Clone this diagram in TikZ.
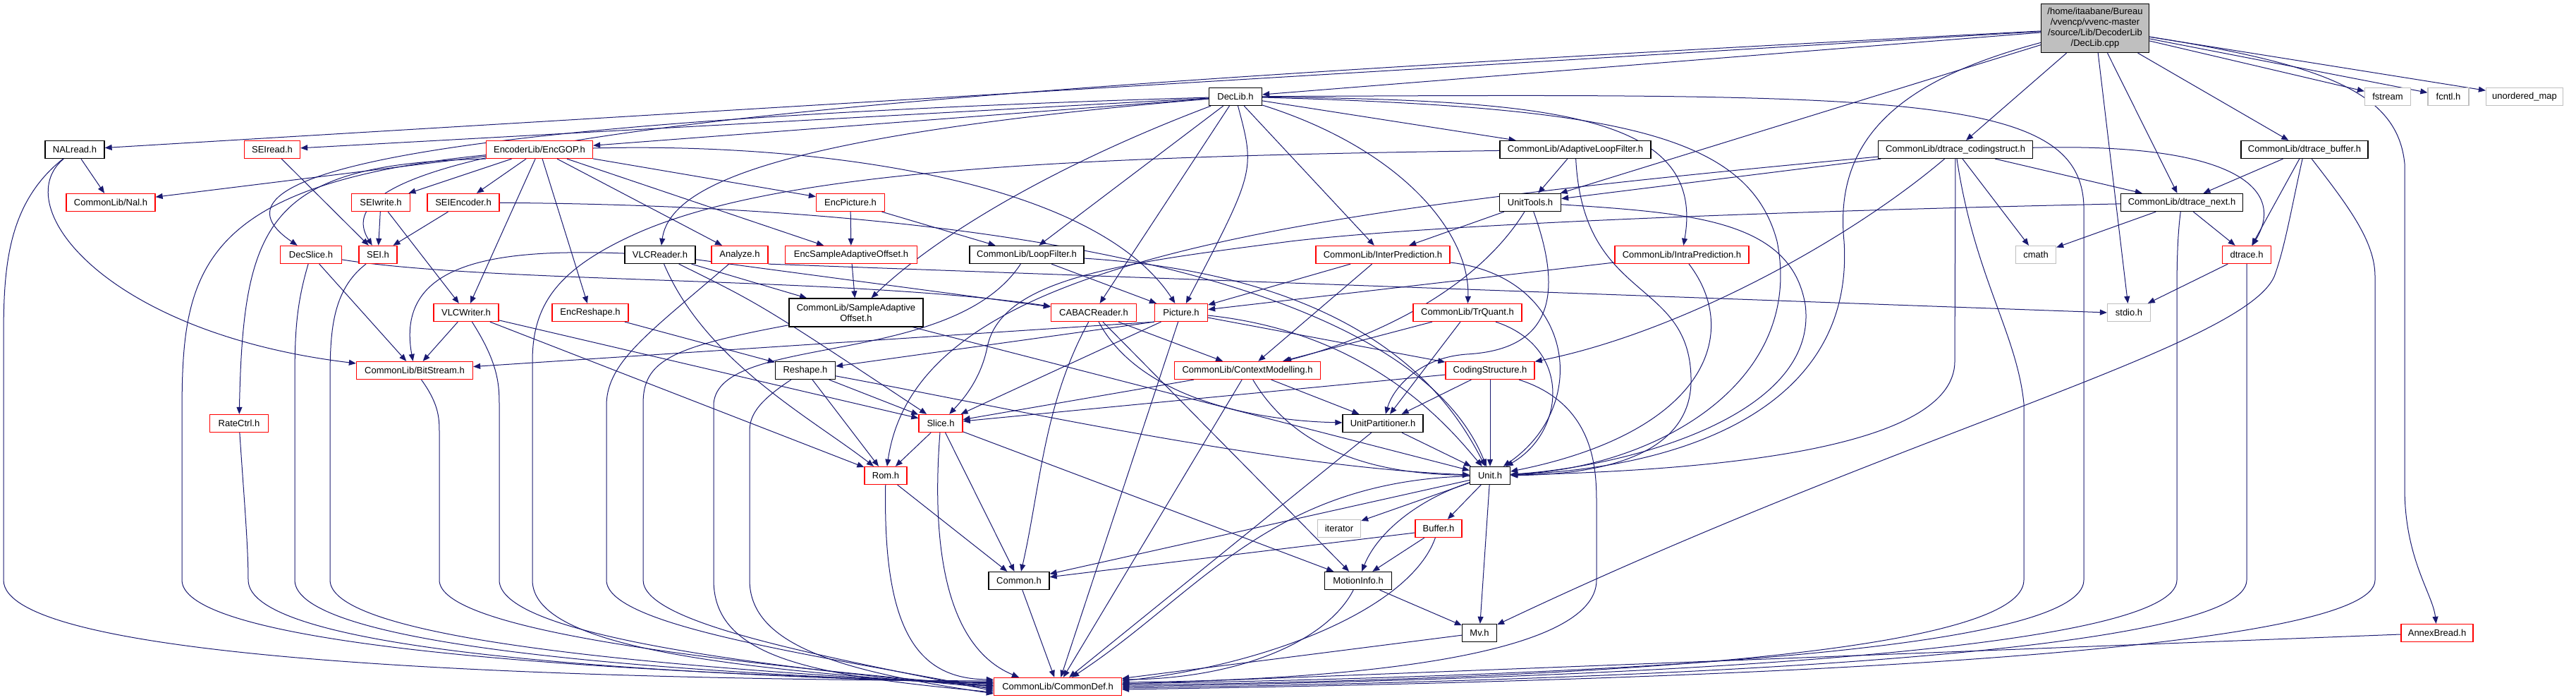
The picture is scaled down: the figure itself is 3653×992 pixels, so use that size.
\documentclass[tikz,border=0pt]{standalone}
\usepackage{fontspec}
\setmainfont{Liberation Sans}
\usetikzlibrary{arrows.meta}
\pgfdeclarelayer{edges}
\pgfsetlayers{edges,main}
\definecolor{edgeblue}{HTML}{191970}
\definecolor{extgray}{HTML}{BFBFBF}
\definecolor{truncred}{HTML}{FF0000}

\begin{document}
\begin{tikzpicture}[
    x=1pt, y=1pt,
    % basic file box
    filebox/.style={rectangle, line width=1.3pt, inner sep=0pt, minimum height=25pt,
        fill=white, font=\fontsize{13pt}{15pt}\selectfont},
    % documented header (black frame)
    hdr/.style={filebox, draw=black},
    % truncated header (red frame)
    trunc/.style={filebox, draw=truncred},
    % system header (grey frame)
    ext/.style={filebox, draw=extgray},
    % the file itself
    rootbox/.style={filebox, draw=black, fill=extgray, align=center, minimum height=69pt},
    % include arrow
    incl/.style={draw=edgeblue, line width=1pt, -{Triangle[length=10pt,width=8pt]}}
]

    % 0. page frame
    \useasboundingbox (0,0) rectangle (3653,992);

    % 1. the source file and first row
    \node[rootbox, minimum width=153pt] (root) at (2971,952)
        {/home/itaabane/Bureau\\/vvencp/vvenc-master\\/source/Lib/DecoderLib\\/DecLib.cpp};
    \node[hdr, minimum width=75pt]  (declib)  at (1752,855) {DecLib.h};
    \node[ext, minimum width=65pt]  (fstream) at (3386,855) {fstream};
    \node[ext, minimum width=58pt]  (fcntl)   at (3472,855) {fcntl.h};
    \node[ext, minimum width=109pt] (umap)    at (3580,855) {unordered\_map};

    % 2. second row
    \node[hdr, minimum width=84pt]    (nalread) at (106,780)  {NALread.h};
    \node[trunc, minimum width=79pt]  (seiread) at (386,780)  {SEIread.h};
    \node[trunc, minimum width=151pt] (encgop)  at (765,780)  {EncoderLib/EncGOP.h};
    \node[hdr, minimum width=214pt]   (alf)     at (2234,780) {CommonLib/AdaptiveLoopFilter.h};
    \node[hdr, minimum width=219pt]   (dtcs)    at (2773,780) {CommonLib/dtrace\_codingstruct.h};
    \node[hdr, minimum width=180pt]   (dtbuf)   at (3268,780) {CommonLib/dtrace\_buffer.h};

    % 3. third row
    \node[trunc, minimum width=126pt] (nal)       at (157,705)  {CommonLib/Nal.h};
    \node[trunc, minimum width=83pt]  (seiwrite)  at (540,705)  {SEIwrite.h};
    \node[trunc, minimum width=102pt] (seienc)    at (657,705)  {SEIEncoder.h};
    \node[trunc, minimum width=97pt]  (encpic)    at (1206,705) {EncPicture.h};
    \node[hdr, minimum width=87pt]    (unittools) at (2170,705) {UnitTools.h};
    \node[hdr, minimum width=173pt]   (dtnext)    at (3094,705) {CommonLib/dtrace\_next.h};

    % 4. fourth row
    \node[trunc, minimum width=87pt]  (decslice)   at (441,631)  {DecSlice.h};
    \node[trunc, minimum width=54pt]  (sei)        at (536,631)  {SEI.h};
    \node[hdr, minimum width=100pt]   (vlcreader)  at (936,631)  {VLCReader.h};
    \node[trunc, minimum width=80pt]  (analyze)    at (1049,631) {Analyze.h};
    \node[trunc, minimum width=187pt] (encsao)     at (1207,631) {EncSampleAdaptiveOffset.h};
    \node[hdr, minimum width=162pt]   (loopfilter) at (1456,631) {CommonLib/LoopFilter.h};
    \node[trunc, minimum width=190pt] (interpred)  at (1961,631) {CommonLib/InterPrediction.h};
    \node[trunc, minimum width=190pt] (intrapred)  at (2385,631) {CommonLib/IntraPrediction.h};
    \node[ext, minimum width=57pt]    (cmath)      at (2887,631) {cmath};
    \node[trunc, minimum width=69pt]  (dtrace)     at (3186,631) {dtrace.h};

    % 5. fifth row
    \node[trunc, minimum width=92pt]  (vlcwriter)  at (661,549)  {VLCWriter.h};
    \node[trunc, minimum width=108pt] (encreshape) at (837,549)  {EncReshape.h};
    \node[hdr, minimum width=190pt, minimum height=40pt, align=center] (sao) at (1214,549)
        {CommonLib/SampleAdaptive\\Offset.h};
    \node[trunc, minimum width=121pt] (cabac)      at (1551,549) {CABACReader.h};
    \node[trunc, minimum width=75pt]  (picture)    at (1675,549) {Picture.h};
    \node[trunc, minimum width=154pt] (trquant)    at (2081,549) {CommonLib/TrQuant.h};
    \node[ext, minimum width=61pt]    (stdio)      at (3019,549) {stdio.h};

    % 6. lower rows
    \node[trunc, minimum width=165pt] (bitstream)    at (588,467)  {CommonLib/BitStream.h};
    \node[hdr, minimum width=85pt]    (reshape)      at (1142,467) {Reshape.h};
    \node[trunc, minimum width=207pt] (ctxmod)       at (1769,467) {CommonLib/ContextModelling.h};
    \node[trunc, minimum width=126pt] (codingstruct) at (2113,467) {CodingStructure.h};
    \node[trunc, minimum width=83pt]  (ratectrl)     at (339,392)  {RateCtrl.h};
    \node[trunc, minimum width=62pt]  (slice)        at (1334,392) {Slice.h};
    \node[hdr, minimum width=114pt]   (unitpart)     at (1961,392) {UnitPartitioner.h};
    \node[trunc, minimum width=60pt]  (rom)          at (1256,318) {Rom.h};
    \node[hdr, minimum width=57pt]    (unit)         at (2113,318) {Unit.h};
    \node[ext, minimum width=61pt]    (iterator)     at (1899,243) {iterator};
    \node[trunc, minimum width=66pt]  (buffer)       at (2040,243) {Buffer.h};
    \node[hdr, minimum width=86pt]    (common)       at (1445,169) {Common.h};
    \node[hdr, minimum width=95pt]    (motioninfo)   at (1926,169) {MotionInfo.h};
    \node[hdr, minimum width=49pt]    (mv)           at (2098,95)  {Mv.h};
    \node[trunc, minimum width=102pt] (annexb)       at (3456,95)  {AnnexBread.h};
    \node[trunc, minimum width=181pt] (commondef)    at (1500,19)  {CommonLib/CommonDef.h};

    \begin{pgfonlayer}{edges}
    % 7. includes of the source file
    \draw[incl] (root) -- (declib);
    \draw[incl] (root) -- (nalread);
    \draw[incl] (root) .. controls (1200,860) and (430,800) .. (sei);
    \draw[incl] (root) -- (unittools);
    \draw[incl] (root) .. controls (2700,880) and (2600,800) .. (2615,650) .. controls (2630,420) and (2400,330) .. (unit);
    \draw[incl] (root) -- (dtcs);
    \draw[incl] (root) -- (dtnext);
    \draw[incl] (root) -- (dtbuf);
    \draw[incl] (root) -- (stdio);
    \draw[incl] (root) -- (fstream);
    \draw[incl] (root) -- (fcntl);
    \draw[incl] (root) -- (umap);
    \draw[incl] (root) .. controls (3300,900) and (3400,860) .. (3410,760) -- (3410,300) .. controls (3410,200) and (3450,150) .. (annexb);

    % 8. DecLib.h
    \draw[incl] (declib) -- (seiread);
    \draw[incl] (declib) .. controls (400,815) and (310,720) .. (decslice);
    \draw[incl] (declib) -- (encgop);
    \draw[incl] (declib) .. controls (1100,800) and (950,730) .. (vlcreader);
    \draw[incl] (declib) .. controls (1500,760) and (1330,660) .. (sao);
    \draw[incl] (declib) -- (loopfilter);
    \draw[incl] (declib) -- (cabac);
    \draw[incl] (declib) .. controls (1780,750) .. (picture);
    \draw[incl] (declib) -- (alf);
    \draw[incl] (declib) -- (interpred);
    \draw[incl] (declib) .. controls (1990,780) and (2085,660) .. (trquant);
    \draw[incl] (declib) .. controls (2200,850) and (2420,830) .. (intrapred);
    \draw[incl] (declib) .. controls (2300,840) and (2480,800) .. (2520,650) .. controls (2560,450) and (2350,330) .. (unit);
    \draw[incl] (declib) .. controls (2700,860) and (2950,860) .. (2955,700) -- (2955,170) .. controls (2955,70) and (2300,35) .. ([yshift=4pt]commondef.east);

    % 9. encoder side headers
    \draw[incl] (encgop) -- (nal);
    \draw[incl] (encgop) -- (seiwrite);
    \draw[incl] (encgop) -- (seienc);
    \draw[incl] (encgop) -- (vlcwriter);
    \draw[incl] (encgop) -- (encreshape);
    \draw[incl] (encgop) -- (analyze);
    \draw[incl] (encgop) -- (encsao);
    \draw[incl] (encgop) -- (encpic);
    \draw[incl] (encgop) .. controls (1150,790) and (1550,740) .. (picture);
    \draw[incl] (encgop.south west) .. controls (380,760) and (345,680) .. (ratectrl);
    \draw[incl] (encgop) .. controls (270,730) and (258,600) .. (258,400) -- (258,170) .. controls (258,80) and (800,40) .. ([yshift=6pt]commondef.west);
    \draw[incl] (seiwrite) -- (sei);
    \draw[incl] (seiwrite) -- (vlcwriter);
    \draw[incl] (seienc) -- (sei);
    \draw[incl] (seienc) .. controls (1400,700) and (2000,600) .. (unit);
    \draw[incl] (encpic) -- (encsao);
    \draw[incl] (encpic) -- (loopfilter);
    \draw[incl] (encsao) -- (sao);
    \draw[incl] (encreshape) -- (reshape);
    \draw[incl] (ratectrl) .. controls (345,300) and (352,220) .. (352,170) .. controls (352,75) and (850,38) .. ([yshift=5pt]commondef.west);
    \draw[incl] (analyze.south east) -- (stdio.west);
    \draw[incl] (analyze) .. controls (920,520) and (862,480) .. (860,420) -- (860,170) .. controls (860,105) and (1150,65) .. ([yshift=-4pt]commondef.west);

    % 10. decoder side headers
    \draw[incl] (nalread) -- (nal);
    \draw[incl] (nalread) .. controls (10,700) and (150,520) .. (bitstream);
    \draw[incl] (nalread) .. controls (5,700) and (5,600) .. (5,500) -- (5,170) .. controls (5,60) and (700,30) .. ([yshift=8pt]commondef.west);
    \draw[incl] (seiread) -- (sei);
    \draw[incl] (decslice) .. controls (700,590) and (1200,600) .. (cabac);
    \draw[incl] (decslice) -- (bitstream);
    \draw[incl] (decslice) .. controls (420,560) and (418,520) .. (418,450) -- (418,170) .. controls (418,80) and (900,40) .. ([yshift=4pt]commondef.west);
    \draw[incl] (sei) .. controls (470,580) and (468,520) .. (468,450) -- (468,170) .. controls (468,85) and (950,45) .. ([yshift=2pt]commondef.west);
    \draw[incl] (vlcreader) .. controls (1000,480) and (1150,400) .. (rom);
    \draw[incl] (vlcreader) .. controls (700,640) and (560,620) .. (bitstream);
    \draw[incl] (vlcreader) .. controls (1080,560) .. (slice);
    \draw[incl] (vlcreader) -- (sao);
    \draw[incl] (vlcreader) -- (cabac);
    \draw[incl] (vlcwriter) -- (bitstream);
    \draw[incl] (vlcwriter) -- (rom);
    \draw[incl] (vlcwriter) -- (slice);
    \draw[incl] (vlcwriter) .. controls (705,480) and (708,450) .. (708,420) -- (708,170) .. controls (708,95) and (1050,50) .. ([yshift=-2pt]commondef.west);
    \draw[incl] (bitstream) .. controls (622,420) and (623,400) .. (623,380) -- (623,170) .. controls (623,100) and (1000,55) .. (commondef.west);

    % 11. CommonLib, left part
    \draw[incl] (sao) -- (unit);
    \draw[incl] (sao) .. controls (950,500) and (912,480) .. (912,420) -- (912,170) .. controls (912,110) and (1150,65) .. ([yshift=-6pt]commondef.west);
    \draw[incl] (loopfilter) -- (picture);
    \draw[incl] (loopfilter) .. controls (1950,600) and (2060,420) .. (unit);
    \draw[incl] (loopfilter) .. controls (1350,470) and (1020,520) .. (1012,420) -- (1012,170) .. controls (1012,60) and (1150,35) .. ([yshift=-8pt]commondef.west);
    \draw[incl] (alf) -- (unittools);
    \draw[incl] (alf) .. controls (2245,560) and (2400,600) .. (2398,450) .. controls (2396,360) and (2300,320) .. (unit);
    \draw[incl] (alf) .. controls (1500,770) and (1100,750) .. (900,660) .. controls (790,610) and (755,560) .. (755,480) -- (755,170) .. controls (755,80) and (1000,45) .. ([yshift=1pt]commondef.west);
    \draw[incl] (reshape) -- (rom);
    \draw[incl] (reshape) -- (slice);
    \draw[incl] (reshape) .. controls (1400,420) and (1800,330) .. (unit);
    \draw[incl] (reshape) .. controls (1070,420) and (1063,400) .. (1063,380) -- (1063,170) .. controls (1063,75) and (1200,40) .. ([yshift=-10pt]commondef.west);
    \draw[incl] (cabac) -- (ctxmod);
    \draw[incl] (cabac) .. controls (1620,420) and (1800,395) .. (unitpart);
    \draw[incl] (cabac) -- (motioninfo);
    \draw[incl] (cabac) .. controls (1480,420) and (1475,300) .. (common);
    \draw[incl] (picture.south west) -- (bitstream);
    \draw[incl] (picture.south west) -- (reshape);
    \draw[incl] (picture) -- (slice);
    \draw[incl] (picture) -- (codingstruct);
    \draw[incl] (picture) .. controls (1950,520) and (2060,380) .. (unit);
    \draw[incl] (picture) -- (commondef);

    % 12. CommonLib, right part
    \draw[incl] (interpred) -- (ctxmod);
    \draw[incl] (interpred) -- (picture);
    \draw[incl] (interpred) .. controls (2230,600) and (2260,420) .. (unit);
    \draw[incl] (intrapred) -- (picture);
    \draw[incl] (intrapred) .. controls (2470,520) and (2420,380) .. (unit);
    \draw[incl] (trquant) -- (ctxmod);
    \draw[incl] (trquant) -- (unitpart);
    \draw[incl] (trquant) .. controls (2230,500) and (2220,380) .. (unit);
    \draw[incl] (unittools) -- (interpred);
    \draw[incl] (unittools) .. controls (2080,560) and (1900,500) .. (ctxmod);
    \draw[incl] (unittools) .. controls (2230,540) and (2170,495) .. (2080,490) .. controls (2010,485) and (1975,440) .. (unitpart);
    \draw[incl] (unittools) .. controls (2400,690) and (2540,680) .. (2560,560) .. controls (2580,400) and (2300,330) .. (unit);
    \draw[incl] (ctxmod) -- (slice);
    \draw[incl] (ctxmod) -- (unitpart);
    \draw[incl] (ctxmod) .. controls (1850,330) and (2000,320) .. (unit);
    \draw[incl] (ctxmod) -- (commondef);
    \draw[incl] (codingstruct) -- (unitpart);
    \draw[incl] (codingstruct) -- (unit);
    \draw[incl] (codingstruct) -- (slice);
    \draw[incl] (codingstruct) .. controls (2260,420) and (2264,330) .. (2264,280) -- (2264,170) .. controls (2264,60) and (1900,28) .. ([yshift=6pt]commondef.east);

    % 13. dtrace headers
    \draw[incl] (dtcs) -- (unittools);
    \draw[incl] (dtcs) -- (dtnext);
    \draw[incl] (dtcs) -- (cmath);
    \draw[incl] (dtcs) .. controls (3180,790) and (3240,720) .. (dtrace);
    \draw[incl] (dtcs) .. controls (2620,650) and (2380,520) .. (codingstruct);
    \draw[incl] (dtcs) .. controls (1800,690) and (1300,620) .. (rom);
    \draw[incl] (dtcs) -- (2772,480) .. controls (2772,350) and (2400,325) .. (unit);
    \draw[incl] (dtcs) .. controls (2800,600) and (2860,520) .. (2870,420) -- (2870,170) .. controls (2870,70) and (2300,30) .. ([yshift=2pt]commondef.east);
    \draw[incl] (dtnext) -- (cmath);
    \draw[incl] (dtnext) -- (dtrace);
    \draw[incl] (dtnext) .. controls (2400,690) and (2000,670) .. (1830,650) .. controls (1600,620) and (1420,600) .. (1400,500) .. controls (1390,450) and (1360,420) .. (slice);
    \draw[incl] (dtnext) .. controls (3088,660) and (3087,620) .. (3087,580) -- (3087,170) .. controls (3087,75) and (2400,32) .. (commondef.east);
    \draw[incl] (dtbuf) -- (dtnext);
    \draw[incl] (dtbuf) -- (dtrace);
    \draw[incl] (dtbuf) .. controls (3250,700) and (3240,640) .. (3225,600) .. controls (3180,500) and (2700,380) .. (mv);
    \draw[incl] (dtbuf) .. controls (3330,700) and (3368,650) .. (3368,600) -- (3368,170) .. controls (3368,75) and (2600,30) .. ([yshift=-4pt]commondef.east);
    \draw[incl] (dtrace) -- (stdio);
    \draw[incl] (dtrace) -- (3186,170) .. controls (3186,75) and (2500,30) .. ([yshift=-2pt]commondef.east);

    % 14. bottom of the graph
    \draw[incl] (slice) -- (rom);
    \draw[incl] (slice) -- (common);
    \draw[incl] (slice) -- (motioninfo);
    \draw[incl] (slice) .. controls (1323,250) and (1330,80) .. ([xshift=-55pt]commondef.north);
    \draw[incl] (rom) -- (common);
    \draw[incl] (rom) .. controls (1252,100) and (1300,30) .. ([yshift=10pt]commondef.west);
    \draw[incl] (unitpart) -- (unit);
    \draw[incl] (unitpart) -- (commondef);
    \draw[incl] (unit) -- (iterator);
    \draw[incl] (unit) -- (buffer);
    \draw[incl] (unit) .. controls (2000,280) and (1950,230) .. (motioninfo);
    \draw[incl] (unit) -- (mv);
    \draw[incl] (unit) -- (common);
    \draw[incl] (unit) .. controls (1800,310) and (1700,150) .. (commondef);
    \draw[incl] ([yshift=-6pt]buffer.west) -- (common);
    \draw[incl] (buffer) -- (motioninfo);
    \draw[incl] (buffer) .. controls (2000,130) and (1800,50) .. ([yshift=8pt]commondef.east);
    \draw[incl] (motioninfo) -- (mv);
    \draw[incl] (motioninfo) .. controls (1880,80) and (1750,30) .. ([yshift=10pt]commondef.east);
    \draw[incl] (mv) -- (commondef);
    \draw[incl] (common) -- (commondef);
    \draw[incl] (annexb) -- (commondef);
    \end{pgfonlayer}

\end{tikzpicture}
\end{document}
